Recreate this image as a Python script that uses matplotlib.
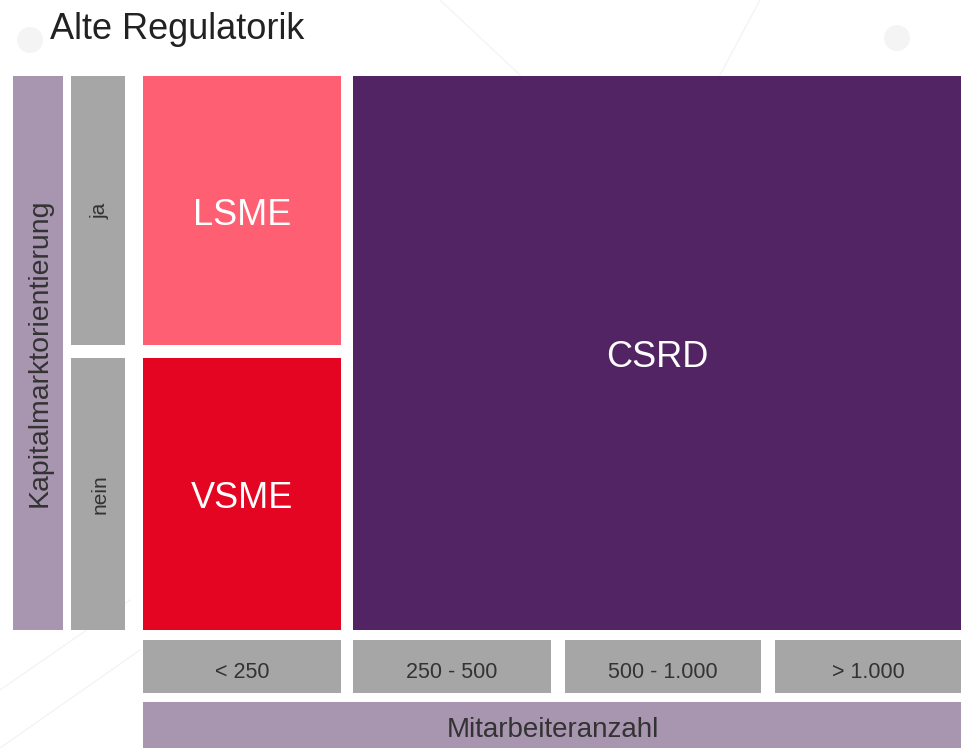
import matplotlib.pyplot as plt
from matplotlib.patches import Rectangle, Circle

plt.rcParams['font.family'] = ['Liberation Sans', 'DejaVu Sans']

# Daten
titel = "Alte Regulatorik"
zeilen_titel = "Kapitalmarktorientierung"
zeilen = ["ja", "nein"]
spalten_titel = "Mitarbeiteranzahl"
spalten = ["< 250", "250 - 500", "500 - 1.000", "> 1.000"]
# Regulatorik je Zelle: (Name, erste Spalte, letzte Spalte, erste Zeile, letzte Zeile)
felder = [("LSME", 0, 0, 0, 0), ("VSME", 0, 0, 1, 1), ("CSRD", 1, 3, 0, 1)]
farben = {"LSME": "#FF5F72", "VSME": "#E30521", "CSRD": "#522463"}

# Layout in Pixeln
spalten_x = [(143, 341), (353, 551), (565, 761), (775, 962)]
zeilen_y = [(76, 345), (358, 630)]
grau = "#A6A6A6"
lila = "#A895B0"
text_dunkel = "#333333"

fig = plt.figure(figsize=(9.62, 7.48), dpi=100)
ax = fig.add_axes([0, 0, 1, 1])
ax.set_xlim(0, 962)
ax.set_ylim(748, 0)
ax.axis("off")

# dezente Hintergrund-Deko
for cx, cy in [(30, 40), (897, 38)]:
    ax.add_patch(Circle((cx, cy), 13, color="#F4F4F4", lw=0, zorder=0))
for (xa, ya), (xb, yb) in [((0, 690), (130, 600)), ((0, 748), (140, 650)),
                           ((440, 0), (520, 75)), ((720, 75), (760, 0))]:
    ax.plot([xa, xb], [ya, yb], color="#F4F4F4", lw=1, zorder=0)


def box(x0, x1, y0, y1, farbe, text="", tfarbe=text_dunkel, size=14, rot=0, dy=1.5):
    ax.add_patch(Rectangle((x0, y0), x1 - x0, y1 - y0, color=farbe, lw=0, zorder=1))
    if not text:
        return
    if rot:
        ax.text((x0 + x1) / 2 + 2, (y0 + y1) / 2, text, color=tfarbe, fontsize=size,
                rotation=rot, ha="center", va="center", zorder=2)
    else:
        cap = size * 100 / 72 * 0.716
        ax.text((x0 + x1) / 2, (y0 + y1) / 2 + cap / 2 + dy, text, color=tfarbe,
                fontsize=size, ha="center", va="baseline", zorder=2)

# Titel
ax.text(50, 29, titel, fontsize=26, color="#222222", ha="left", va="center")

# Zeilenachse
box(13, 63, 76, 630, lila, zeilen_titel, size=20.5, rot=90)
for (y0, y1), z in zip(zeilen_y, zeilen):
    box(71, 125, y0, y1, grau, z, size=15, rot=90)

# Spaltenachse
for (x0, x1), s in zip(spalten_x, spalten):
    box(x0, x1, 640, 693, grau, s, size=15.5, dy=3.5)
box(spalten_x[0][0], spalten_x[-1][1], 702, 750, lila, spalten_titel, size=20, dy=1)

# Felder
for name, c0, c1, r0, r1 in felder:
    box(spalten_x[c0][0], spalten_x[c1][1], zeilen_y[r0][0], zeilen_y[r1][1],
        farben[name], name, tfarbe="white", size=26)

fig.savefig("out.png", dpi=100)
